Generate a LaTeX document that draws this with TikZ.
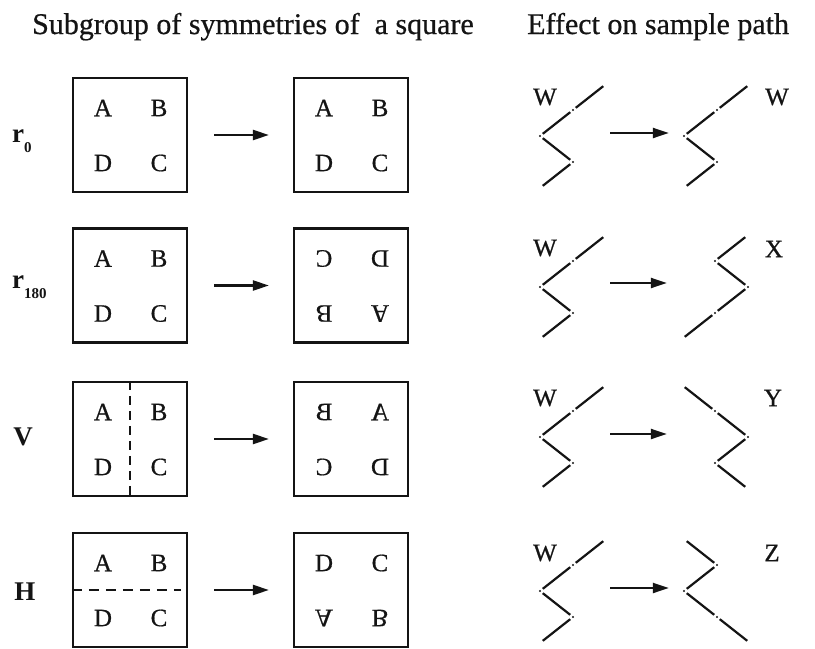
\documentclass[tikz,border=0pt]{standalone}
\usepackage{fontspec}
\setmainfont{Liberation Serif}
\newfontfamily\scanfont{Liberation Serif}[FakeBold=0.6]
\usepackage{graphicx}
\usepackage{tikz}
\usetikzlibrary{
  arrows.meta,
  calc,
  positioning
}
\colorlet{ink}{black!92}
\tikzset{
  arrow/.style={-{Triangle[length=16pt,width=10pt]}, draw=ink, line width=2.2pt},
  squarebox/.style={
    draw=ink,
    line width=2.2pt,
    minimum size=114pt,
    inner sep=0pt
  },
  letter/.style={inner sep=0pt, text=ink, font=\scanfont\fontsize{25}{30}\selectfont},
  headline/.style={inner sep=0pt, text=ink, font=\scanfont\fontsize{30}{36}\selectfont},
  rowlabel/.style={inner sep=0pt, text=ink, font=\fontsize{27}{32}\selectfont\bfseries},
  pathlabel/.style={inner sep=0pt, text=ink, font=\scanfont\fontsize{25}{30}\selectfont},
  pathbox/.style={minimum width=66pt, minimum height=104pt, inner sep=0pt},
  walk/.style={draw=ink, line width=2.2pt, shorten <=3.5pt, shorten >=3.5pt},
  fold/.style={draw=ink, line width=2.2pt, dash pattern=on 9pt off 6pt}
}
\newcommand{\Mirror}[1]{\scalebox{-1}[1]{#1}}
\newcommand{\Flip}[1]{\scalebox{1}[-1]{#1}}
\newcommand{\Turn}[1]{\rotatebox{180}{#1}}
\newcommand{\RotSub}[1]{\raisebox{-10.5pt}{\fontsize{15}{15}\selectfont\bfseries #1}}
% four corner letters of a square node
\newcommand{\Corners}[5]{%
  \node[letter] at ($(#1)+(-27,-27)$) {#2};
  \node[letter] at ($(#1)+(29,-27)$) {#3};
  \node[letter] at ($(#1)+(-27,28)$) {#4};
  \node[letter] at ($(#1)+(29,28)$) {#5};
}
% sample path: start x, bottom y, list of steps (1 or -1), drawn upwards
\newcommand{\SamplePath}[3]{%
  \begin{scope}[shift={(#1,#2)}]
    \foreach \s [count=\i from 0, remember=\nx as \cx (initially 0), evaluate=\s as \nx using \cx+(\s)] in {#3} {
      \draw[walk] (\cx*33,-\i*26) -- (\nx*33,-\i*26-26);
      \ifnum\i>0 \fill[ink] (\cx*33,-\i*26) circle (1.1pt);\fi
    }
  \end{scope}}

\begin{document}
\begin{tikzpicture}[x=1pt,y=-1pt]
  \fill[white] (0,0) rectangle (815,648);

  \node[headline, anchor=base west] (lefthead) at (32,34) {Subgroup of symmetries of \ a square};
  \node[headline, anchor=base west] (righthead) at (527,34) {Effect on sample path};

  % squares
  \node[rowlabel, anchor=base west] (lab1) at (12,142) {r\RotSub{0}};
  \node[squarebox] (s1a) at (130,135) {};
  \node[squarebox] (s1b) at (351,135) {};
  \Corners{s1a}{A}{B}{D}{C}
  \Corners{s1b}{A}{B}{D}{C}

  \node[rowlabel, anchor=base west] (lab2) at (12,288) {r\RotSub{180}};
  \node[squarebox] (s2a) at (130,285.5) {};
  \node[squarebox] (s2b) at (351,285.5) {};
  \Corners{s2a}{A}{B}{D}{C}
  \Corners{s2b}{\Turn{C}}{\Turn{D}}{\Turn{B}}{\Turn{A}}

  \node[rowlabel] (lab3) at (23,437) {V};
  \node[squarebox] (s3a) at (130,439) {};
  \node[squarebox] (s3b) at (351,439) {};
  \draw[fold] (s3a.north) -- (s3a.south);
  \Corners{s3a}{A}{B}{D}{C}
  \Corners{s3b}{\Mirror{B}}{\Mirror{A}}{\Mirror{C}}{\Mirror{D}}

  \node[rowlabel] (lab4) at (25,592) {H};
  \node[squarebox] (s4a) at (130,590) {};
  \node[squarebox] (s4b) at (351,590) {};
  \draw[fold, dash pattern=on 10pt off 7pt] (s4a.west) -- ++(109,0);
  \Corners{s4a}{A}{B}{D}{C}
  \Corners{s4b}{\Flip{D}}{\Flip{C}}{\Flip{A}}{\Flip{B}}

  \foreach \r in {1,2,3,4}
    \draw[arrow, shorten <=26pt, shorten >=24pt] (s\r a.east) -- (s\r b.west);

  % sample paths
  \node[pathbox] (w1) at (573,133) {};
  \node[pathbox] (p1) at (717,133) {};
  \SamplePath{540}{188}{1,-1,1,1}
  \SamplePath{684}{188}{1,-1,1,1}
  \node[pathlabel] (wl1) at (545,97) {W};
  \node[pathlabel] (pl1) at (777,97) {W};

  \node[pathbox] (w2) at (573,283) {};
  \node[pathbox] (p2) at (715,283) {};
  \SamplePath{540}{339}{1,-1,1,1}
  \SamplePath{682}{339}{1,1,-1,1}
  \node[pathlabel] (wl2) at (545,248) {W};
  \node[pathlabel] (pl2) at (774,249) {X};

  \node[pathbox] (w3) at (573,434) {};
  \node[pathbox] (p3) at (715,434) {};
  \SamplePath{540}{489}{1,-1,1,1}
  \SamplePath{748}{489}{-1,1,-1,-1}
  \node[pathlabel] (wl3) at (545,398) {W};
  \node[pathlabel] (pl3) at (773,398) {Y};

  \node[pathbox] (w4) at (573,588) {};
  \node[pathbox] (p4) at (717,588) {};
  \SamplePath{540}{643}{1,-1,1,1}
  \SamplePath{750}{643}{-1,-1,1,-1}
  \node[pathlabel] (wl4) at (545,553) {W};
  \node[pathlabel] (pl4) at (772,553) {Z};

  \foreach \r in {1,2,3,4}
    \draw[arrow, shorten <=4pt, shorten >=15pt] (w\r.east) -- (p\r.west);
\end{tikzpicture}
\end{document}
